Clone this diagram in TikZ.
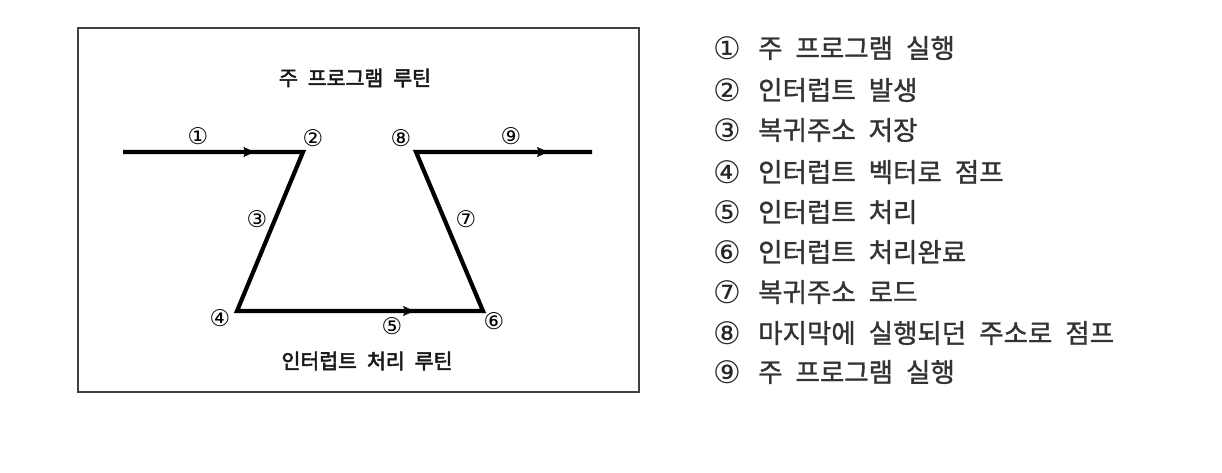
\documentclass[tikz,border=0pt]{standalone}
\usepackage{fontspec}
\newfontfamily\kr[FakeBold=1.2]{Noto Sans CJK KR}
\newfontfamily\dv{DejaVu Sans}
\newcommand\ttlfont{\kr\fontsize{20.5}{20.5}\selectfont\addfontfeature{FakeBold=2.6}\spaceskip 10pt\relax}
\newcommand\itmfont{\kr\fontsize{26.5}{26.5}\selectfont\spaceskip 13pt\relax}
\usetikzlibrary{decorations.markings,arrows.meta}
\tikzset{
  path/.style={line width=4.2pt, line join=miter},
  midarrow/.style={decoration={markings, mark=at position #1 with {\arrow{Stealth[length=11pt,width=10pt,inset=2pt]}}}, postaction=decorate},
  num/.style={font=\dv\fontsize{23}{23}\selectfont, inner sep=0pt},
  title/.style={font=\ttlfont, inner sep=0pt, text=black!90},
  item/.style={font=\itmfont, inner sep=0pt, anchor=west, text=black!80},
  inum/.style={font=\dv\fontsize{31}{31}\selectfont, inner sep=0pt, text=black!85}
}
\begin{document}
\begin{tikzpicture}[x=1pt,y=-1pt]
\useasboundingbox (0,0) rectangle (1222,472);
\fill[white] (0,0) rectangle (1222,472);
\draw[line width=1.4pt, black!75] (78,28) rectangle (639,392);
\node[title] (t1) at (355,78) {주 프로그램 루틴};
\node[title] (t2) at (367,361) {인터럽트 처리 루틴};
\coordinate (s) at (123,152);
\coordinate (c2) at (303,152);
\coordinate (c4) at (237,311);
\coordinate (c6) at (483,311);
\coordinate (c8) at (416,152);
\coordinate (e) at (592,152);
\draw[path] (s) -- (c2) -- (c4) -- (c6) -- (c8) -- (e);
\path[midarrow=0.73] (s) -- (c2);
\path[midarrow=0.72] (c4) -- (c6);
\path[midarrow=0.75] (c8) -- (e);
\node[num] (n1) at (198,136) {①};
\node[num] (n2) at (313,138) {②};
\node[num] (n3) at (257,219) {③};
\node[num] (n4) at (220,318) {④};
\node[num] (n5) at (392,326) {⑤};
\node[num] (n6) at (494,321) {⑥};
\node[num] (n7) at (466,219) {⑦};
\node[num] (n8) at (401,138) {⑧};
\node[num] (n9) at (511,136) {⑨};
\foreach \i/\y/\t in {1/48/주 프로그램 실행, 2/90/인터럽트 발생, 3/130/복귀주소 저장, 4/172/인터럽트 벡터로 점프, 5/212/인터럽트 처리, 6/252/인터럽트 처리완료, 7/292/복귀주소 로드, 8/333/마지막에 실행되던 주소로 점프, 9/372/주 프로그램 실행}{
  \node[inum] (l\i) at (727,\y) {\ifcase\i\or ①\or ②\or ③\or ④\or ⑤\or ⑥\or ⑦\or ⑧\or ⑨\fi};
  \node[item] (m\i) at (758,\y) {\t};
}
\end{tikzpicture}
\end{document}
